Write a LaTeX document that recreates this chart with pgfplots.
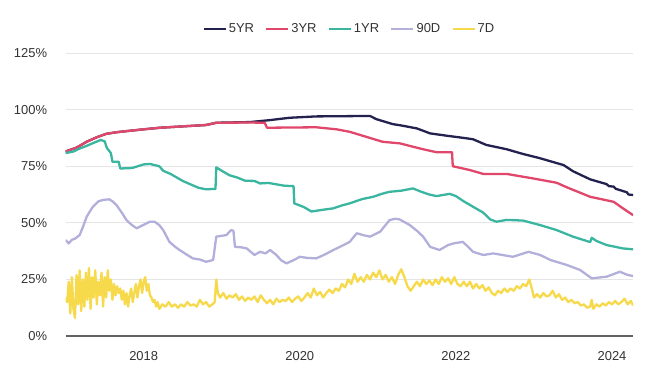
\documentclass[border=0pt]{standalone}
\usepackage{fontspec}
\setmainfont{Liberation Sans}
\usepackage{pgfplots}
\pgfplotsset{compat=1.18}
\definecolor{cfive}{HTML}{23224F}
\definecolor{cthree}{HTML}{E0476B}
\definecolor{cone}{HTML}{3AB5A0}
\definecolor{cninety}{HTML}{B3AFDB}
\definecolor{cseven}{HTML}{F7D94C}
\definecolor{txt}{HTML}{333333}
\begin{document}
\fontsize{13}{15}\selectfont
\begin{tikzpicture}
\path[use as bounding box] (-65.6bp,-35bp) rectangle (582.3bp,336bp);
\begin{axis}[
  at={(0,0)}, anchor=south west,
  scale only axis, width=567.4bp, height=283bp,
  xmin=2017, xmax=2024.27, ymin=0, ymax=125,
  axis x line*=bottom, axis y line*=left,
  y axis line style={draw=none},
  x axis line style={draw=black!62, line width=1.3bp, -},
  major tick length=0pt, tick style={draw=none},
  ymajorgrids, grid style={draw=black!10, line width=0.8bp},
  ytick={0,25,50,75,100,125},
  yticklabels={0\%,25\%,50\%,75\%,100\%,125\%},
  xtick={2018,2020,2022,2024},
  xticklabels={2018,2020,2022,2024},
  yticklabel style={anchor=east, xshift=-14bp, text=txt},
  xticklabel style={anchor=north, yshift=-11bp, text=txt},
  legend style={at={(0.5,1)}, anchor=center, yshift=24bp, draw=none, fill=none,
    legend columns=-1, text=txt,
    /tikz/every even column/.append style={column sep=9bp}},
  legend image code/.code={\draw[#1, line width=2.4bp] (0bp,0bp) -- (22bp,0bp);},
  every axis plot/.append style={line width=2.3bp, line join=round, no markers},
]
% 5YR
\addplot[cfive] coordinates {
(2017.00,81.5)(2017.14,83.2)(2017.27,85.8)(2017.40,87.8)(2017.52,89.3)(2017.65,90.0)(2017.78,90.5)
(2018.00,91.3)(2018.21,92.0)(2018.50,92.6)(2018.80,93.2)(2018.93,94.2)(2019.36,94.5)
(2019.60,95.3)(2019.87,96.4)(2020.21,97.0)(2020.90,97.2)(2020.98,95.8)(2021.19,93.6)
(2021.30,93.0)(2021.50,91.7)(2021.67,89.5)(2021.92,88.3)(2022.10,87.5)(2022.22,86.9)
(2022.39,84.4)(2022.65,82.5)(2022.85,80.5)(2023.08,78.5)(2023.38,75.5)(2023.50,72.8)
(2023.72,69.2)(2023.93,67.1)(2023.96,66.2)(2024.02,66.0)(2024.05,65.0)(2024.19,63.5)(2024.21,62.5)(2024.27,62.3)};
% 3YR
\addplot[cthree] coordinates {
(2017.00,81.5)(2017.14,83.2)(2017.27,85.8)(2017.40,87.8)(2017.52,89.3)(2017.65,90.0)(2017.78,90.5)
(2018.00,91.3)(2018.21,92.0)(2018.50,92.6)(2018.80,93.2)(2018.93,94.2)(2019.36,94.3)
(2019.55,94.2)(2019.58,92.0)(2020.21,92.2)(2020.47,91.3)(2020.64,90.2)(2020.85,88.0)
(2021.06,85.8)(2021.28,85.1)(2021.58,82.5)(2021.75,81.2)(2021.95,81.2)(2021.96,75.0)
(2022.18,73.3)(2022.35,71.6)(2022.65,71.6)(2022.99,69.6)(2023.29,67.7)(2023.42,65.7)
(2023.72,61.5)(2024.02,59.3)(2024.14,56.4)(2024.27,53.4)};
% 1YR
\addplot[cone] coordinates {
(2017.00,80.8)(2017.10,81.5)(2017.18,82.8)(2017.27,84.0)(2017.35,85.2)(2017.45,86.6)
(2017.50,86.0)(2017.53,83.0)(2017.58,80.8)(2017.60,77.0)(2017.68,77.0)(2017.70,74.0)
(2017.85,74.2)(2018.00,75.8)(2018.08,76.0)(2018.20,75.0)(2018.25,73.0)(2018.35,71.5)
(2018.50,68.5)(2018.60,67.0)(2018.70,65.5)(2018.80,64.8)(2018.92,65.0)(2018.93,74.5)
(2019.00,73.0)(2019.10,71.0)(2019.20,70.0)(2019.30,68.6)(2019.42,68.5)(2019.49,67.4)
(2019.60,67.6)(2019.70,67.0)(2019.80,66.4)(2019.92,66.2)(2019.93,58.6)(2020.05,57.0)
(2020.15,55.0)(2020.30,55.8)(2020.43,56.4)(2020.55,57.8)(2020.64,58.6)(2020.80,60.5)
(2020.94,61.5)(2021.05,62.8)(2021.15,63.7)(2021.30,64.2)(2021.45,65.2)(2021.55,63.8)
(2021.65,62.6)(2021.75,61.8)(2021.92,62.8)(2022.00,61.8)(2022.10,59.5)(2022.22,57.1)
(2022.35,54.5)(2022.44,51.5)(2022.52,50.5)(2022.65,51.3)(2022.86,51.0)(2023.08,49.0)
(2023.29,46.8)(2023.50,43.9)(2023.72,41.5)(2023.74,43.4)(2023.80,42.0)(2023.93,40.2)
(2024.14,38.7)(2024.27,38.3)};
% 90D
\addplot[cninety] coordinates {
(2017.00,42.4)(2017.04,40.9)(2017.08,42.5)(2017.12,43.0)(2017.18,44.6)(2017.22,48.0)
(2017.27,52.7)(2017.31,55.0)(2017.35,57.1)(2017.42,59.5)(2017.48,60.1)(2017.56,60.4)
(2017.60,59.5)(2017.65,57.9)(2017.72,54.5)(2017.78,51.2)(2017.85,49.0)(2017.91,47.6)
(2017.98,48.8)(2018.08,50.5)(2018.14,50.5)(2018.20,49.0)(2018.25,46.8)(2018.33,41.6)
(2018.40,39.5)(2018.46,38.0)(2018.55,36.0)(2018.63,34.3)(2018.72,33.8)(2018.80,32.8)
(2018.89,33.6)(2018.93,43.9)(2019.06,44.6)(2019.12,46.8)(2019.15,46.5)(2019.17,39.4)
(2019.25,39.2)(2019.32,38.7)(2019.42,35.8)(2019.49,37.2)(2019.56,36.5)(2019.62,38.0)
(2019.70,35.8)(2019.76,33.5)(2019.83,32.1)(2019.92,33.5)(2020.00,35.0)(2020.10,34.5)
(2020.21,34.3)(2020.32,36.0)(2020.43,38.0)(2020.55,40.0)(2020.64,41.6)(2020.73,45.4)
(2020.82,44.5)(2020.90,43.9)(2021.03,46.1)(2021.15,51.2)(2021.22,51.8)(2021.28,51.5)
(2021.41,49.0)(2021.50,46.5)(2021.58,43.9)(2021.67,39.4)(2021.79,38.0)(2021.90,40.2)
(2021.97,40.9)(2022.09,41.6)(2022.22,37.2)(2022.35,35.8)(2022.48,36.5)(2022.73,35.0)
(2022.93,37.2)(2023.08,35.8)(2023.21,33.6)(2023.42,31.4)(2023.59,29.2)(2023.74,25.5)
(2023.93,26.2)(2024.10,28.4)(2024.20,27.0)(2024.27,26.5)};
% 7D
\addplot[cseven] coordinates {
(2017.00,17)(2017.02,15)(2017.04,24)(2017.06,10)(2017.08,26)(2017.10,12)(2017.12,8)
(2017.14,27)(2017.16,14)(2017.18,29)(2017.20,11)(2017.22,25)(2017.24,13)(2017.26,28)
(2017.28,16)(2017.30,30)(2017.32,12)(2017.34,26)(2017.36,17)(2017.38,29)(2017.40,14)
(2017.42,24)(2017.44,18)(2017.46,28)(2017.48,13)(2017.50,26)(2017.52,17)(2017.54,29)
(2017.56,20)(2017.58,25)(2017.60,16)(2017.62,23)(2017.64,18)(2017.66,22)(2017.68,19)
(2017.70,21)(2017.72,16)(2017.74,20)(2017.76,14)(2017.78,19)(2017.80,13)(2017.82,18)
(2017.84,21)(2017.86,15)(2017.88,19)(2017.90,23)(2017.92,17)(2017.94,22)(2017.96,25)
(2017.98,19)(2018.00,24)(2018.02,26)(2018.04,20)(2018.06,23)(2018.08,18)(2018.10,17)
(2018.12,15)(2018.14,16)(2018.16,13)(2018.18,15)(2018.20,12)(2018.24,14)(2018.28,13)
(2018.32,15)(2018.36,13)(2018.40,14)(2018.44,12.5)(2018.48,14)(2018.52,13)(2018.56,15)
(2018.60,13.5)(2018.64,14)(2018.68,13)(2018.72,16)(2018.76,14)(2018.80,15)(2018.84,13)
(2018.88,14)(2018.91,15)(2018.93,25)(2018.95,19)(2018.98,17)(2019.02,19)(2019.06,16.5)
(2019.10,18)(2019.14,17)(2019.18,18.5)(2019.22,16)(2019.26,17.5)(2019.30,15.5)(2019.34,17)
(2019.38,16)(2019.42,17.5)(2019.46,15)(2019.50,18)(2019.54,16)(2019.58,14.5)(2019.62,16)
(2019.66,14)(2019.70,16.5)(2019.74,15)(2019.78,16)(2019.82,15.5)(2019.86,17)(2019.90,15)
(2019.94,16.5)(2019.98,17.5)(2020.02,15.5)(2020.06,17)(2020.10,19)(2020.14,17)(2020.18,21)
(2020.22,18)(2020.26,19.5)(2020.30,17)(2020.34,19)(2020.38,20.5)(2020.42,19)(2020.46,21)
(2020.50,20)(2020.54,23)(2020.58,21.5)(2020.62,25)(2020.66,23)(2020.70,27.5)(2020.74,24)
(2020.78,26)(2020.82,24)(2020.86,27)(2020.90,25)(2020.94,28)(2020.98,26)(2021.02,29)
(2021.06,25)(2021.10,27)(2021.14,24)(2021.18,26)(2021.22,23)(2021.26,27)(2021.30,29.5)
(2021.34,26)(2021.38,22)(2021.42,20)(2021.46,22)(2021.50,24)(2021.54,22)(2021.58,25)
(2021.62,23)(2021.66,24.5)(2021.70,22.5)(2021.74,25)(2021.78,23)(2021.82,26)(2021.86,24)
(2021.90,25.5)(2021.94,23)(2021.98,26)(2022.02,23)(2022.06,22)(2022.10,24)(2022.14,22)
(2022.18,24)(2022.22,21)(2022.26,23)(2022.30,21)(2022.34,22.5)(2022.38,20)(2022.42,21.5)
(2022.46,19)(2022.50,18)(2022.54,20)(2022.58,19)(2022.62,21)(2022.66,19.5)(2022.70,21)
(2022.74,20)(2022.78,22)(2022.82,21)(2022.86,23)(2022.90,22)(2022.94,25)(2022.98,20)
(2023.00,17)(2023.04,18.5)(2023.08,17)(2023.12,19)(2023.16,17.5)(2023.20,18)(2023.24,20)
(2023.28,17)(2023.32,18.5)(2023.36,16)(2023.40,17)(2023.44,15)(2023.48,16)(2023.52,14.5)
(2023.56,15)(2023.60,13.5)(2023.64,14)(2023.68,12.5)(2023.72,13)(2023.74,16)(2023.76,12)
(2023.80,14)(2023.84,13)(2023.88,14.5)(2023.92,13.5)(2023.96,15)(2024.00,14)(2024.04,15.5)
(2024.08,14)(2024.12,15)(2024.16,16.5)(2024.20,14)(2024.24,15.5)(2024.27,13.5)};
\legend{5YR,3YR,1YR,90D,7D}
\end{axis}
\end{tikzpicture}
\end{document}
